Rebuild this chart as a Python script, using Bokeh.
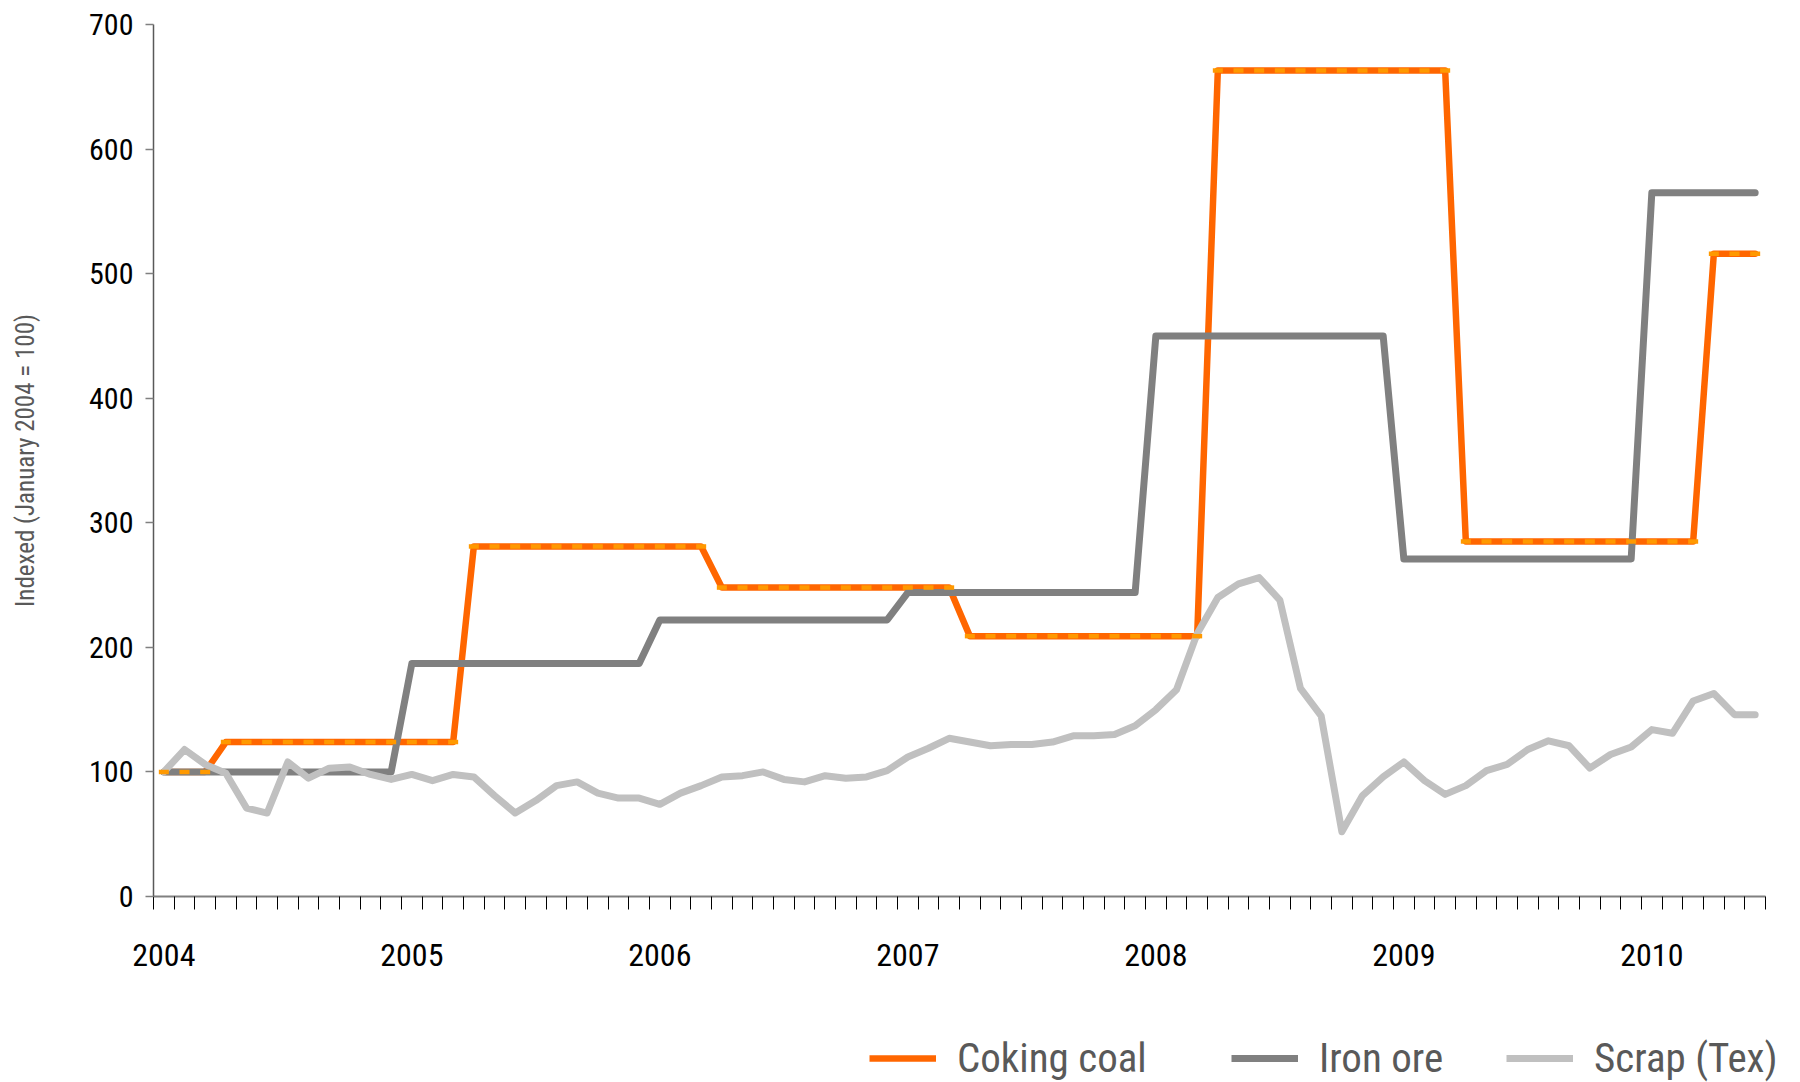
from bokeh.plotting import figure
from bokeh.layouts import column
from bokeh.models import (FixedTicker, Legend, LegendItem, Range1d,
                          ColumnDataSource)
from bokeh.embed import file_html
from bokeh.resources import INLINE

# ---------------- data (monthly, Jan 2004 .. Jun 2010) ----------------
years = ["2004", "2005", "2006", "2007", "2008", "2009", "2010"]
y_ticks = [0, 100, 200, 300, 400, 500, 600, 700]

coking_coal = [100, 100, 100,
               124, 124, 124, 124, 124, 124, 124, 124, 124, 124, 124, 124,
               281, 281, 281, 281, 281, 281, 281, 281, 281, 281, 281, 281,
               248, 248, 248, 248, 248, 248, 248, 248, 248, 248, 248, 248,
               209, 209, 209, 209, 209, 209, 209, 209, 209, 209, 209, 209,
               663, 663, 663, 663, 663, 663, 663, 663, 663, 663, 663, 663,
               285, 285, 285, 285, 285, 285, 285, 285, 285, 285, 285, 285,
               516, 516, 516]

iron_ore = [100, 100, 100, 100, 100, 100, 100, 100, 100, 100, 100, 100,
            187, 187, 187, 187, 187, 187, 187, 187, 187, 187, 187, 187,
            222, 222, 222, 222, 222, 222, 222, 222, 222, 222, 222, 222,
            244, 244, 244, 244, 244, 244, 244, 244, 244, 244, 244, 244,
            450, 450, 450, 450, 450, 450, 450, 450, 450, 450, 450, 450,
            271, 271, 271, 271, 271, 271, 271, 271, 271, 271, 271, 271,
            565, 565, 565, 565, 565, 565]

scrap_tex = [100, 118, 106, 99, 71, 67, 108, 95, 103, 104, 98, 94,
             98, 93, 98, 96, 81, 67, 77, 89, 92, 83, 79, 79,
             74, 83, 89, 96, 97, 100, 94, 92, 97, 95, 96, 101,
             112, 119, 127, 124, 121, 122, 122, 124, 129, 129, 130, 137,
             150, 166, 211, 240, 251, 256, 238, 167, 145, 52, 81, 96,
             108, 93, 82, 89, 101, 106, 118, 125, 121, 103, 114, 120,
             134, 131, 157, 163, 146, 146]

series_names = ["Coking coal", "Iron ore", "Scrap (Tex)"]
months = list(range(len(scrap_tex)))

# ---------------- styling ----------------
FONT = "Roboto Condensed, DejaVu Sans Condensed, Roboto"
C_COAL = "#FF6600"
C_COAL_MARK = "#FF9900"
C_IRON = "#808080"
C_SCRAP = "#C0C0C0"
W_COAL, W_IRON, W_SCRAP = 6.5, 7, 7

src = ColumnDataSource(dict(x=months, coal=coking_coal, iron=iron_ore,
                            scrap=scrap_tex))


def no_frame_align(fig):
    if "frame_align" in fig.properties():
        fig.frame_align = False


# ---------------- main chart ----------------
p = figure(width=1792, height=998, output_backend="svg",
           toolbar_location=None, tools="",
           x_range=Range1d(-0.5, len(months) - 0.5),
           y_range=Range1d(0, 700),
           min_border_left=153, min_border_right=27,
           min_border_top=24, min_border_bottom=102)
no_frame_align(p)

p.outline_line_color = None
p.xgrid.grid_line_color = None
p.ygrid.grid_line_color = None
p.background_fill_color = "white"
p.border_fill_color = "white"

p.line("x", "coal", source=src, line_color=C_COAL, line_width=W_COAL,
       line_join="round", line_cap="round")
p.line("x", "iron", source=src, line_color=C_IRON, line_width=W_IRON,
       line_join="round", line_cap="round")
p.line("x", "scrap", source=src, line_color=C_SCRAP, line_width=W_SCRAP,
       line_join="round", line_cap="round")
p.scatter("x", "coal", source=src, marker="dash", size=10,
          line_color=C_COAL_MARK, line_width=4.5)

# x axis
xa = p.xaxis[0]
year_pos = [12 * i for i in range(len(years))]
xa.ticker = FixedTicker(ticks=year_pos,
                        minor_ticks=[m - 0.5 for m in range(len(months) + 1)])
xa.major_label_overrides = {pos: lab for pos, lab in zip(year_pos, years)}
xa.major_tick_line_color = None
xa.major_tick_out = 0
xa.major_tick_in = 0
xa.minor_tick_line_color = "black"
xa.minor_tick_line_width = 1
xa.minor_tick_out = 13
xa.minor_tick_in = 0
xa.axis_line_color = "#808080"
xa.axis_line_width = 2
xa.major_label_text_font = FONT
xa.major_label_text_font_size = "32px"
xa.major_label_text_color = "black"
xa.major_label_standoff = 34

# y axis
ya = p.yaxis[0]
ya.ticker = FixedTicker(ticks=y_ticks)
ya.minor_tick_line_color = None
ya.major_tick_line_color = "#808080"
ya.major_tick_line_width = 1.5
ya.major_tick_out = 8
ya.major_tick_in = 0
ya.axis_line_color = "#595959"
ya.axis_line_width = 1.5
ya.major_label_text_font = FONT
ya.major_label_text_font_size = "30px"
ya.major_label_text_color = "black"
ya.major_label_standoff = 12
ya.axis_label = "Indexed (January 2004 = 100)"
ya.axis_label_text_font = FONT
ya.axis_label_text_font_size = "25px"
ya.axis_label_text_font_style = "normal"
ya.axis_label_text_color = "#595959"
ya.axis_label_standoff = 46

# ---------------- legend strip below the chart ----------------
# ranges chosen far from the data so the key lines show only in the legend
q = figure(width=1792, height=84, output_backend="svg",
           toolbar_location=None, tools="",
           x_range=Range1d(5000, 6792), y_range=Range1d(5000, 5084),
           x_axis_type=None, y_axis_type=None,
           min_border=0)
no_frame_align(q)
q.outline_line_color = None
q.background_fill_color = "white"
q.border_fill_color = "white"

styles = [("coal", C_COAL, W_COAL, 869),
          ("iron", C_IRON, W_IRON, 1231),
          ("scrap", C_SCRAP, W_SCRAP, 1506)]
for name, (field, col, lw, vx) in zip(series_names, styles):
    key = q.line("x", field, source=src, line_color=col, line_width=lw)
    lg = Legend(items=[LegendItem(label=name, renderers=[key])],
                location=(vx, 0), orientation="horizontal",
                glyph_width=67, glyph_height=20, label_standoff=21,
                padding=0, margin=0, border_line_color=None,
                background_fill_alpha=0,
                label_text_font=FONT, label_text_font_size="41px",
                label_text_color="#595959")
    q.add_layout(lg, "center")

layout = column(p, q, spacing=0)
open("out.html", "w").write(file_html(layout, INLINE))
